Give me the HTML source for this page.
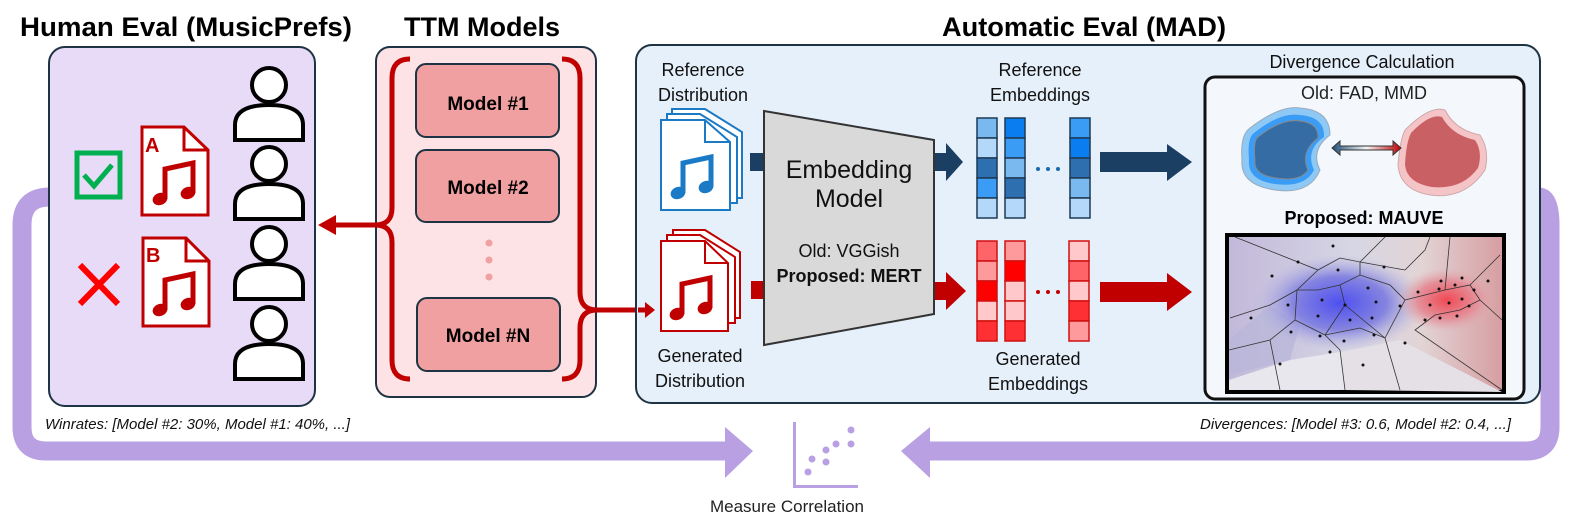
<!DOCTYPE html>
<html><head><meta charset="utf-8"><style>
html,body{margin:0;padding:0;background:#fff;}
svg{display:block}
text{font-family:"Liberation Sans",sans-serif;}
</style></head><body>
<svg width="1577" height="525" viewBox="0 0 1577 525" xmlns="http://www.w3.org/2000/svg">
<defs>
<linearGradient id="dbl" x1="0" x2="1"><stop offset="0" stop-color="#1f4e79"/><stop offset="0.5" stop-color="#f5f5f5"/><stop offset="1" stop-color="#c00000"/></linearGradient>
<linearGradient id="vbg" x1="0" x2="1"><stop offset="0" stop-color="#c2b8da"/><stop offset="0.45" stop-color="#d6d6e4"/><stop offset="0.7" stop-color="#e2d4d6"/><stop offset="1" stop-color="#d69da0"/></linearGradient>
<radialGradient id="vb" cx="0.5" cy="0.5" r="0.5"><stop offset="0" stop-color="#4f50f0"/><stop offset="0.55" stop-color="#8584e0"/><stop offset="1" stop-color="#b6b4e0" stop-opacity="0"/></radialGradient>
<radialGradient id="vr" cx="0.5" cy="0.5" r="0.5"><stop offset="0" stop-color="#f04a55"/><stop offset="0.6" stop-color="#e4909a"/><stop offset="1" stop-color="#e0b0b2" stop-opacity="0"/></radialGradient>
<g id="person"><circle cx="0" cy="0" r="17" fill="#fff" stroke="#000" stroke-width="4"/><path d="M-34,55 L-34,40 Q-34,20 0,20 Q34,20 34,40 L34,55 Z" fill="#fff" stroke="#000" stroke-width="4"/></g>
<g id="note"><path d="M-14,18 L-14,-12 L14,-18 L14,12" fill="none" stroke-width="5"/><ellipse cx="-19" cy="18" rx="7" ry="5.5" transform="rotate(-20 -19 18)"/><ellipse cx="9" cy="12" rx="7" ry="5.5" transform="rotate(-20 9 12)"/></g>
</defs>

<!-- purple loop -->
<path d="M50,197 Q22,197 22,225 L22,427 Q22,451 46,451 L730,451" fill="none" stroke="#b9a0e2" stroke-width="19"/>
<path d="M725,427 L753,451 L725,478 Z" fill="#b9a0e2"/>
<path d="M1538,197 Q1550,197 1550,225 L1550,427 Q1550,451 1526,451 L925,451" fill="none" stroke="#b9a0e2" stroke-width="19"/>
<path d="M930,427 L901,451 L930,478 Z" fill="#b9a0e2"/>

<!-- titles -->
<text x="20" y="36" font-size="27" font-weight="bold" textLength="332" lengthAdjust="spacingAndGlyphs">Human Eval (MusicPrefs)</text>
<text x="404" y="36" font-size="27" font-weight="bold" textLength="156" lengthAdjust="spacingAndGlyphs">TTM Models</text>
<text x="942" y="36" font-size="27" font-weight="bold" textLength="284" lengthAdjust="spacingAndGlyphs">Automatic Eval (MAD)</text>

<!-- human box -->
<rect x="49" y="47" width="266" height="359" rx="16" fill="#e7dbf7" stroke="#1e3444" stroke-width="2"/>
<rect x="77" y="153" width="43" height="44" fill="none" stroke="#00b050" stroke-width="5"/>
<path d="M84,175 L94,186 L112,165" fill="none" stroke="#00b050" stroke-width="5"/>
<path d="M80,265 L118,304 M118,265 L80,304" stroke="#ff0000" stroke-width="6"/>
<g stroke="#c00000" fill="#fff" stroke-width="3">
<path d="M142,127 L184,127 L208,150 L208,215 L142,215 Z"/><path d="M184,127 L184,150 L208,150" fill="none"/>
<path d="M143,238 L186,238 L209,261 L209,326 L143,326 Z"/><path d="M186,238 L186,261 L209,261" fill="none"/>
</g>
<text x="145" y="152" font-size="20" font-weight="bold" fill="#c00000">A</text>
<text x="146" y="262" font-size="20" font-weight="bold" fill="#c00000">B</text>
<g fill="#c00000" stroke="#c00000" transform="translate(179,181)"><use href="#note"/></g>
<g fill="#c00000" stroke="#c00000" transform="translate(179,292)"><use href="#note"/></g>
<use href="#person" x="269" y="85"/>
<use href="#person" x="269" y="164"/>
<use href="#person" x="269" y="244"/>
<use href="#person" x="269" y="324"/>

<!-- TTM box -->
<rect x="376" y="47" width="220" height="350" rx="14" fill="#fde3e5" stroke="#1e3444" stroke-width="2"/>
<g fill="#f0a0a0" stroke="#1e3444" stroke-width="2">
<rect x="416" y="64" width="143" height="73" rx="10"/>
<rect x="416" y="150" width="143" height="72" rx="10"/>
<rect x="417" y="298" width="143" height="73" rx="10"/>
</g>
<g font-size="19" font-weight="bold" text-anchor="middle">
<text x="488" y="110">Model #1</text><text x="488" y="194">Model #2</text><text x="488" y="342">Model #N</text>
</g>
<g fill="#f0a0a0"><circle cx="489" cy="243" r="3.5"/><circle cx="489" cy="260" r="3.5"/><circle cx="489" cy="277" r="3.5"/></g>
<g fill="none" stroke="#c00000" stroke-width="5">
<path d="M410,59 Q392,59 392,78 L392,208 Q392,225 375,225 Q392,225 392,242 L392,360 Q392,379 410,379"/>
<path d="M562,59 Q580,59 580,78 L580,292 Q580,310 597,310 Q580,310 580,328 L580,360 Q580,379 562,379"/>
<path d="M375,225 L330,225"/>
<path d="M597,310 L640,310"/>
</g>
<path d="M336,215 L318,225 L336,235 Z" fill="#c00000"/>

<!-- auto box -->
<rect x="636" y="45" width="904" height="358" rx="16" fill="#e6f0fa" stroke="#1e3444" stroke-width="2"/>
<path d="M638,310 L648,310" stroke="#c00000" stroke-width="5"/>
<path d="M645,302 L655,310 L645,318 Z" fill="#c00000"/>
<g font-size="18" text-anchor="middle" fill="#111">
<text x="703" y="76">Reference</text><text x="703" y="101">Distribution</text>
<text x="700" y="362">Generated</text><text x="700" y="387">Distribution</text>
<text x="1040" y="76">Reference</text><text x="1040" y="101">Embeddings</text>
<text x="1038" y="365">Generated</text><text x="1038" y="390">Embeddings</text>
<text x="1362" y="68">Divergence Calculation</text>
</g>
<!-- doc stacks -->
<g stroke="#1a7ac6" fill="#fff" stroke-width="2">
<path d="M672,109 L705,109 L742,132 L742,198 L672,198 Z"/>
<path d="M667,114 L700,114 L737,137 L737,203 L667,203 Z"/>
<path d="M661,120 L705,120 L730,142 L730,210 L661,210 Z"/>
<path d="M705,120 L705,142 L730,142" fill="none"/>
</g>
<g fill="#1a7ac6" stroke="#1a7ac6" transform="translate(697,175)"><use href="#note"/></g>
<g stroke="#c00000" fill="#fff" stroke-width="2">
<path d="M673,230 L705,230 L740,252 L740,318 L673,318 Z"/>
<path d="M667,235 L700,235 L735,257 L735,323 L667,323 Z"/>
<path d="M661,241 L705,241 L728,263 L728,331 L661,331 Z"/>
<path d="M705,241 L705,263 L728,263" fill="none"/>
</g>
<g fill="#c00000" stroke="#c00000" transform="translate(696,296)"><use href="#note"/></g>
<!-- arrows into/out of trapezoid -->
<rect x="750" y="153" width="18" height="18" fill="#1b3f63"/>
<rect x="751" y="281" width="18" height="18" fill="#c00000"/>
<path d="M930,153 L946,153 L946,143 L963,162 L946,181 L946,171 L930,171 Z" fill="#1b3f63"/>
<path d="M930,282 L946,282 L946,272 L966,291 L946,310 L946,300 L930,300 Z" fill="#c00000"/>
<path d="M764,111 L934,140 L934,314 L764,345 Z" fill="#d9d9d9" stroke="#333" stroke-width="2"/>
<g text-anchor="middle" fill="#111">
<text x="849" y="178" font-size="25">Embedding</text><text x="849" y="207" font-size="25">Model</text>
<text x="849" y="257" font-size="18">Old: VGGish</text>
<text x="849" y="282" font-size="18" font-weight="bold">Proposed: MERT</text>
</g>
<!-- embeddings -->
<g stroke="#1e3a55" stroke-width="1.5">
<rect x="977" y="118" width="20" height="20" fill="#7ab8f0"/><rect x="977" y="138" width="20" height="20" fill="#b3d8fa"/><rect x="977" y="158" width="20" height="20" fill="#2e6fb0"/><rect x="977" y="178" width="20" height="20" fill="#3a9cf5"/><rect x="977" y="198" width="20" height="20" fill="#b3d8fa"/>
<rect x="1005" y="118" width="20" height="20" fill="#0a7df0"/><rect x="1005" y="138" width="20" height="20" fill="#3a9cf5"/><rect x="1005" y="158" width="20" height="20" fill="#7ab8f0"/><rect x="1005" y="178" width="20" height="20" fill="#2e6fb0"/><rect x="1005" y="198" width="20" height="20" fill="#b3d8fa"/>
<rect x="1070" y="118" width="20" height="20" fill="#3a9cf5"/><rect x="1070" y="138" width="20" height="20" fill="#0a7df0"/><rect x="1070" y="158" width="20" height="20" fill="#2e6fb0"/><rect x="1070" y="178" width="20" height="20" fill="#7ab8f0"/><rect x="1070" y="198" width="20" height="20" fill="#b3d8fa"/>
</g>
<g stroke="#d01010" stroke-width="1.5">
<rect x="977" y="241" width="20" height="20" fill="#ff6468"/><rect x="977" y="261" width="20" height="20" fill="#ff9a9c"/><rect x="977" y="281" width="20" height="20" fill="#ff0000"/><rect x="977" y="301" width="20" height="20" fill="#ffc8ca"/><rect x="977" y="321" width="20" height="20" fill="#ff3034"/>
<rect x="1005" y="241" width="20" height="20" fill="#ff9a9c"/><rect x="1005" y="261" width="20" height="20" fill="#ff0000"/><rect x="1005" y="281" width="20" height="20" fill="#ffc8ca"/><rect x="1005" y="301" width="20" height="20" fill="#ffc8ca"/><rect x="1005" y="321" width="20" height="20" fill="#ff3034"/>
<rect x="1069" y="241" width="20" height="20" fill="#ffc8ca"/><rect x="1069" y="261" width="20" height="20" fill="#ff6468"/><rect x="1069" y="281" width="20" height="20" fill="#ffc8ca"/><rect x="1069" y="301" width="20" height="20" fill="#ff3034"/><rect x="1069" y="321" width="20" height="20" fill="#ff9a9c"/>
</g>
<g fill="#1a6ab0"><circle cx="1038" cy="169" r="2"/><circle cx="1048" cy="169" r="2"/><circle cx="1058" cy="169" r="2"/></g>
<g fill="#c00000"><circle cx="1038" cy="292" r="2"/><circle cx="1048" cy="292" r="2"/><circle cx="1058" cy="292" r="2"/></g>
<path d="M1100,152 L1167,152 L1167,144 L1192,162 L1167,181 L1167,172 L1100,172 Z" fill="#1b3f63"/>
<path d="M1100,282 L1167,282 L1167,273 L1192,292 L1167,311 L1167,302 L1100,302 Z" fill="#c00000"/>

<!-- divergence box -->
<rect x="1205" y="77" width="319" height="322" rx="10" fill="#f4f8fd" stroke="#111" stroke-width="3"/>
<text x="1364" y="99" font-size="18" text-anchor="middle" fill="#222">Old: FAD, MMD</text>
<path d="M1250,128 Q1280,105 1300,108 Q1330,110 1330,135 Q1310,150 1320,170 Q1310,195 1275,190 Q1240,185 1242,160 Q1240,135 1250,128 Z" fill="#8ec8f5" stroke="#9ab" stroke-width="1"/>
<path d="M1254,133 Q1280,112 1300,115 Q1325,117 1324,137 Q1305,150 1314,170 Q1305,188 1275,184 Q1247,180 1249,160 Q1247,138 1254,133 Z" fill="#3a9cf5"/>
<path d="M1258,137 Q1282,118 1300,121 Q1319,123 1318,138 Q1300,152 1308,170 Q1300,182 1276,178 Q1253,175 1255,160 Q1253,141 1258,137 Z" fill="#356ca3" stroke="#888" stroke-width="1"/>
<path d="M1405,130 Q1430,105 1445,110 Q1455,130 1480,135 Q1490,150 1485,170 Q1465,200 1430,195 Q1400,190 1398,165 Q1400,140 1405,130 Z" fill="#f5c4c6" stroke="#caa" stroke-width="1"/>
<path d="M1411,133 Q1430,113 1442,117 Q1452,135 1475,140 Q1483,152 1478,168 Q1462,190 1432,187 Q1407,183 1405,165 Q1406,143 1411,133 Z" fill="#c96064"/>
<path d="M1332,148 L1340,141 L1340,146 L1393,146 L1393,141 L1401,148 L1393,155 L1393,150 L1340,150 L1340,155 Z" fill="url(#dbl)" stroke="#333" stroke-width="1"/>
<text x="1364" y="224" font-size="18" font-weight="bold" text-anchor="middle">Proposed: MAUVE</text>
<rect x="1227" y="235" width="277" height="157" fill="url(#vbg)" stroke="#000" stroke-width="4"/>
<path d="M1229,340 L1270,305 L1300,325 L1290,360 L1229,375 Z" fill="#b9b6d9" opacity="0.8"/>
<path d="M1229,380 L1290,360 L1340,352 L1345,390 L1229,390 Z" fill="#e9e7ee"/>
<path d="M1340,352 L1400,340 L1502,392 L1345,390 Z" fill="#e4e0e6"/>
<ellipse cx="1340" cy="303" rx="85" ry="48" fill="url(#vb)"/>
<ellipse cx="1447" cy="300" rx="50" ry="32" fill="url(#vr)"/>
<g stroke="#333" stroke-width="0.8" fill="none">
<path d="M1235,237 L1318,270 L1340,258 L1360,262 L1385,237"/>
<path d="M1318,270 L1297,290 L1270,305 L1230,318"/>
<path d="M1297,290 L1295,320 L1270,340 L1229,350"/>
<path d="M1295,320 L1325,335 L1340,350 L1345,390"/>
<path d="M1325,335 L1360,328 L1385,338 L1405,300 L1390,285 L1360,275 L1340,285 L1318,290 L1297,290"/>
<path d="M1360,262 L1405,270 L1425,250 L1430,237"/>
<path d="M1405,300 L1425,295 L1445,290 L1470,285 L1480,300 L1460,310 L1435,315 L1415,330 L1502,390"/>
<path d="M1470,285 L1500,255 M1480,300 L1502,320 M1445,290 L1450,237 M1385,338 L1400,390 M1270,340 L1280,390"/>
<path d="M1340,285 L1345,305 L1325,335 M1345,305 L1385,338 M1360,275 L1360,262"/>
</g>
<g fill="#111">
<circle cx="1333" cy="246" r="1.5"/><circle cx="1298" cy="262" r="1.5"/><circle cx="1272" cy="276" r="1.5"/><circle cx="1338" cy="270" r="1.5"/><circle cx="1368" cy="288" r="1.5"/><circle cx="1322" cy="300" r="1.5"/><circle cx="1345" cy="305" r="1.5"/><circle cx="1376" cy="302" r="1.5"/><circle cx="1288" cy="305" r="1.5"/><circle cx="1318" cy="316" r="1.5"/><circle cx="1350" cy="320" r="1.5"/><circle cx="1372" cy="318" r="1.5"/><circle cx="1251" cy="318" r="1.5"/><circle cx="1291" cy="332" r="1.5"/><circle cx="1320" cy="336" r="1.5"/><circle cx="1344" cy="341" r="1.5"/><circle cx="1374" cy="335" r="1.5"/><circle cx="1330" cy="352" r="1.5"/><circle cx="1280" cy="364" r="1.5"/><circle cx="1363" cy="365" r="1.5"/><circle cx="1405" cy="343" r="1.5"/><circle cx="1384" cy="267" r="1.5"/><circle cx="1400" cy="306" r="1.5"/><circle cx="1418" cy="292" r="1.5"/><circle cx="1430" cy="305" r="1.5"/><circle cx="1439" cy="289" r="1.5"/><circle cx="1455" cy="285" r="1.5"/><circle cx="1449" cy="303" r="1.5"/><circle cx="1462" cy="299" r="1.5"/><circle cx="1474" cy="290" r="1.5"/><circle cx="1440" cy="318" r="1.5"/><circle cx="1457" cy="316" r="1.5"/><circle cx="1425" cy="320" r="1.5"/><circle cx="1441" cy="281" r="1.5"/><circle cx="1462" cy="278" r="1.5"/><circle cx="1488" cy="281" r="1.5"/><circle cx="1469" cy="306" r="1.5"/>
</g>

<!-- bottom texts -->
<text x="45" y="429" font-size="15" font-style="italic" fill="#111">Winrates: [Model #2: 30%, Model #1: 40%, ...]</text>
<text x="1511" y="429" font-size="15" font-style="italic" fill="#111" text-anchor="end">Divergences: [Model #3: 0.6, Model #2: 0.4, ...]</text>
<g fill="#b9a0e2">
<rect x="793" y="422" width="3" height="66"/><rect x="793" y="485" width="65" height="3"/>
<circle cx="851" cy="430" r="3.5"/><circle cx="836" cy="444" r="3.5"/><circle cx="851" cy="444" r="3.5"/><circle cx="826" cy="450" r="3.5"/><circle cx="812" cy="459" r="3.5"/><circle cx="826" cy="462" r="3.5"/><circle cx="808" cy="472" r="3.5"/>
</g>
<text x="787" y="512" font-size="17" text-anchor="middle" fill="#222">Measure Correlation</text>
</svg>
</body></html>
